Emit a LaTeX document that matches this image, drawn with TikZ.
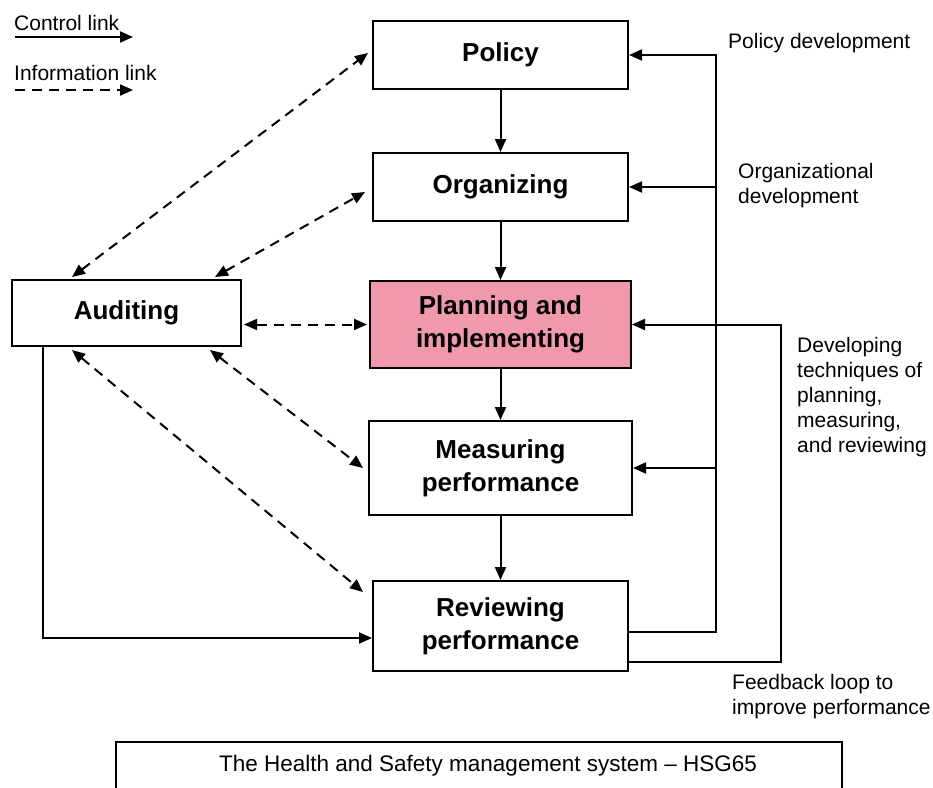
\documentclass[tikz,border=0pt]{standalone}
\usepackage{fontspec}
\setmainfont{Liberation Sans}
\usetikzlibrary{arrows.meta}
\definecolor{planpink}{RGB}{240,152,172}
\begin{document}
\begin{tikzpicture}[x=1pt, y=-1pt,
        >={Triangle[length=13pt, width=11pt]},
        box/.style={draw, line width=2pt, align=center, inner sep=0pt,
            font=\fontsize{26}{33}\selectfont\bfseries},
        ctrl/.style={line width=2pt, ->},
        info/.style={line width=2pt, dash pattern=on 10pt off 7pt, <->},
        lbl/.style={align=left, inner sep=0pt, font=\fontsize{21}{25}\selectfont}]
        \useasboundingbox (0, 0) rectangle (933, 787);

        \node [box, minimum width=255pt, minimum height=68pt] (pol) at (500.5, 55) {Policy};
        \node [box, minimum width=255pt, minimum height=68pt] (org) at (500.5, 187) {Organizing};
        \node [box, fill=planpink, minimum width=261pt, minimum height=87pt] (plan) at (500.5, 324.5) {Planning and\\implementing};
        \node [box, minimum width=263pt, minimum height=94pt] (meas) at (500.5, 468) {Measuring\\performance};
        \node [box, minimum width=255pt, minimum height=90pt] (rev) at (500.5, 626) {Reviewing\\performance};
        \node [box, minimum width=229pt, minimum height=66pt] (audit) at (126.5, 313) {Auditing};

        \node [lbl, anchor=base west] (ctltxt) at (14, 30) {Control link};
        \node [lbl, anchor=base west] (inftxt) at (14, 80) {Information link};
        \coordinate (c1) at (15, 37);
        \coordinate (c2) at (133, 37);
        \coordinate (i1) at (15, 90);
        \coordinate (i2) at (133, 90);
        \draw [ctrl] (c1) -- (c2);
        \draw [info, ->] (i1) -- (i2);

        \draw [ctrl] (pol) -- (org);
        \draw [ctrl] (org) -- (plan);
        \draw [ctrl] (plan) -- (meas);
        \draw [ctrl] (meas) -- (rev);

        \coordinate (spine) at (716, 55);
        \coordinate (loop) at (781, 324.5);
        \draw [ctrl] ([yshift=-6pt]rev.east) -| (spine) -- (pol.east);
        \draw [ctrl] (spine |- org.east) -- (org.east);
        \draw [ctrl] (spine |- meas.east) -- (meas.east);
        \draw [ctrl] ([yshift=-36pt]rev.east) -| (loop) -- (plan.east);
        \draw [ctrl] ([xshift=-83.5pt]audit.south) |- ([yshift=-12pt]rev.west);

        \draw [info] ([xshift=-54.5pt, yshift=2pt]audit.north) -- ([xshift=-4pt, yshift=2pt]pol.west);
        \draw [info] ([xshift=88.5pt, yshift=2pt]audit.north) -- ([xshift=-7pt, yshift=-5pt]org.west);
        \draw [info] ([xshift=2pt]audit.east |- plan.west) -- ([xshift=-2pt]plan.west);
        \draw [info] ([xshift=83.5pt, yshift=-3pt]audit.south) -- ([xshift=-5pt]meas.west);
        \draw [info] ([xshift=-54.5pt, yshift=-3pt]audit.south) -- ([xshift=-9pt, yshift=-12pt]rev.north west);

        \node [lbl, anchor=base west] (pdev) at (728, 48) {Policy development};
        \node [lbl, anchor=west] (odev) at (738, 186) {Organizational\\development};
        \node [lbl, anchor=west] (tdev) at (797, 397) {Developing\\techniques of\\planning,\\measuring,\\and reviewing};
        \node [lbl, anchor=west] (fb) at (732, 697) {Feedback loop to\\improve performance};

        \draw [line width=2pt] (116, 800) |- (842, 742) -- (842, 800);
        \node [font=\fontsize{22.5}{26}\selectfont] (hsg) at (488, 766) {The Health and Safety management system – HSG65};
        \end{tikzpicture}
\end{document}
